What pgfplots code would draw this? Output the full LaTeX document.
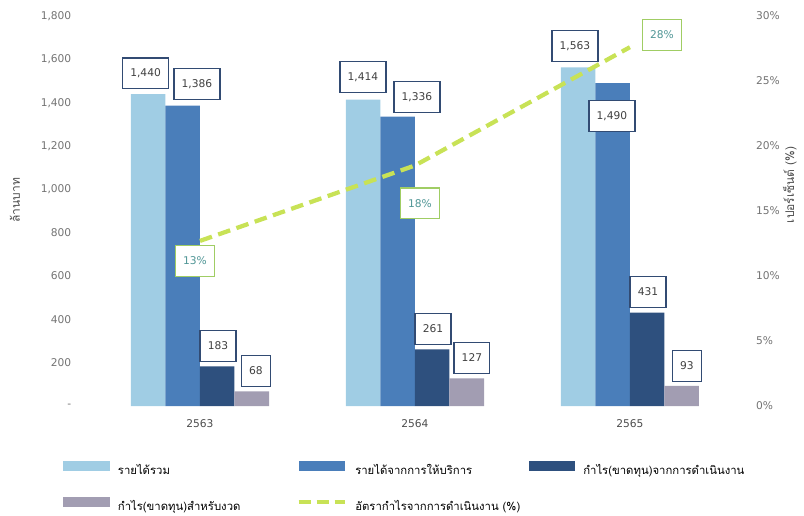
\documentclass[border=0pt]{standalone}
\usepackage{fontspec}
\setmainfont{DejaVu Sans}
\newfontfamily\thai[Script=Thai]{Loma}
\usepackage{pgfplots}
\pgfplotsset{compat=1.18}
\pgfplotsset{/pgf/number format/assume math mode=true}

\definecolor{barA}{RGB}{160,205,228}
\definecolor{barB}{RGB}{74,126,186}
\definecolor{barC}{RGB}{46,80,126}
\definecolor{barD}{RGB}{162,157,178}
\definecolor{rateline}{RGB}{200,226,86}
\definecolor{boxblue}{RGB}{50,75,115}
\definecolor{boxgreen}{RGB}{160,205,100}
\definecolor{pcttext}{RGB}{80,150,150}
\definecolor{ticktext}{RGB}{115,115,115}

\tikzset{
  vlbl/.style={draw=boxblue, line width=1pt, fill=white, inner xsep=5.8pt,
    minimum height=23pt, text=black!75, font=\fontsize{8}{9}\selectfont},
  plbl/.style={vlbl, draw=boxgreen, text=pcttext},
}
\pgfplotsset{
  bar legend/.style={legend image code/.code={\fill[##1] (0pt,-0.5pt) rectangle (35pt,7pt);}},
  rate legend/.style={draw=rateline, line width=3pt, dash pattern=on 9pt off 4.5pt,
    legend image code/.code={\draw[##1] (0pt,3.2pt) -- (35pt,3.2pt);}},
}

\begin{document}
\begin{tikzpicture}
\useasboundingbox (-60pt,-81.75pt) rectangle (543pt,304.5pt);

% bars, left axis
\begin{axis}[
    at={(0pt,0pt)}, anchor=south west,
    scale only axis, width=499.5pt, height=292.5pt,
    xmin=-0.558, xmax=2.54, ymin=0, ymax=1800,
    clip=false,
    ybar=0pt, bar width=25.9pt,
    axis line style={draw=none}, major tick length=0pt,
    xtick={0,1,2}, xticklabels={2563,2564,2565},
    ytick={0,200,...,1800},
    yticklabels={-,200,400,600,800,{1,000},{1,200},{1,400},{1,600},{1,800}},
    ticklabel style={font=\fontsize{8}{9}\selectfont},
    yticklabel style={text=ticktext, xshift=-3pt},
    xticklabel style={text=black!70, yshift=-7pt},
    ylabel={\thai ล้านบาท},
    ylabel style={at={(rel axis cs:-0.0976,0.528)}, anchor=center,
      font=\fontsize{9}{10}\selectfont, text=black!70},
    legend columns=3,
    legend cell align=left,
    legend style={at={(rel axis cs:-0.0255,-0.14)}, anchor=north west,
      draw=none, inner sep=0pt, row sep=13pt,
      font=\fontsize{8.5}{10}\selectfont,
      nodes={inner sep=0pt, minimum height=14pt},
      /tikz/every odd column/.append style={column sep=6pt}},
]
\addplot[fill=barA, draw=none, bar legend] coordinates {(0,1440) (1,1414) (2,1563)};
\addlegendentry{\makebox[134pt][l]{\thai รายได้รวม}}
\addplot[fill=barB, draw=none, bar legend] coordinates {(0,1386) (1,1336) (2,1490)};
\addlegendentry{\makebox[130pt][l]{\thai รายได้จากการให้บริการ}}
\addplot[fill=barC, draw=none, bar legend] coordinates {(0,183) (1,261) (2,431)};
\addlegendentry{\thai กำไร(ขาดทุน)จากการดำเนินงาน}
\addplot[fill=barD, draw=none, bar legend] coordinates {(0,68) (1,127) (2,93)};
\addlegendentry{\makebox[134pt][l]{\thai กำไร(ขาดทุน)สำหรับงวด}}
\addlegendimage{rate legend}
\addlegendentry{\thai อัตรากำไรจากการดำเนินงาน (\%)}

\node[vlbl] at (axis cs:-0.253,1535) {1,440};
\node[vlbl] at (axis cs:-0.014,1486) {1,386};
\node[vlbl] at (axis cs:0.084,277) {183};
\node[vlbl] at (axis cs:0.260,162) {68};
\node[vlbl] at (axis cs:0.758,1518) {1,414};
\node[vlbl] at (axis cs:1.009,1426) {1,336};
\node[vlbl] at (axis cs:1.084,355) {261};
\node[vlbl] at (axis cs:1.265,222) {127};
\node[vlbl] at (axis cs:1.744,1662) {1,563};
\node[vlbl] at (axis cs:1.916,1338) {1,490};
\node[vlbl] at (axis cs:2.084,526) {431};
\node[vlbl] at (axis cs:2.265,185) {93};
\end{axis}

% operating margin, right axis
\begin{axis}[
    at={(0pt,0pt)}, anchor=south west,
    scale only axis, width=499.5pt, height=292.5pt,
    xmin=-0.558, xmax=2.54, ymin=0, ymax=30,
    clip=false,
    axis x line=none, axis y line*=right,
    axis line style={draw=none}, major tick length=0pt,
    ytick={0,5,...,30},
    yticklabel={\pgfmathprintnumber{\tick}\%},
    yticklabel style={font=\fontsize{8}{9}\selectfont, text=ticktext, xshift=4pt},
    ylabel={\thai เปอร์เซ็นต์ (\%)},
    ylabel style={at={(rel axis cs:1.066,0.567)}, anchor=center,
      font=\fontsize{9}{10}\selectfont, text=black!70},
]
\addplot[rateline, line width=3.2pt, dash pattern=on 9.5pt off 5pt]
  coordinates {(0,12.7) (1,18.5) (2,27.6)};
\node[plbl] at (axis cs:-0.023,11.15) {13\%};
\node[plbl] at (axis cs:1.023,15.6) {18\%};
\node[plbl] at (axis cs:2.149,28.54) {28\%};
\end{axis}
\end{tikzpicture}
\end{document}
